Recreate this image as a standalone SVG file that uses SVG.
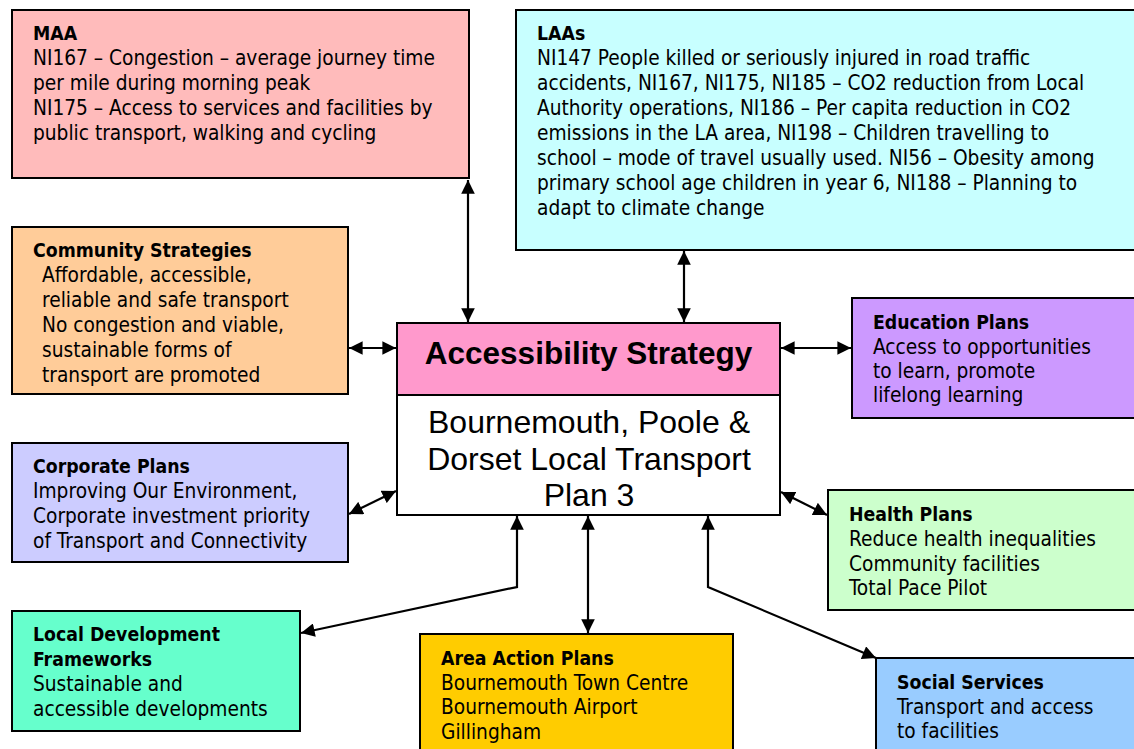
<svg xmlns="http://www.w3.org/2000/svg" width="1134" height="749" viewBox="0 0 1134 749">
  <style>
    .box { stroke: #000; stroke-width: 2; }
    .t { font-family: "DejaVu Sans Condensed", "DejaVu Sans", sans-serif; font-size: 20.7px; fill: #000; }
    .h { font-weight: bold; font-size: 19.3px; }
    .title { font-family: "Liberation Sans", Arial, sans-serif; font-size: 31.5px; font-weight: bold; fill: #000; }
    .sub { font-family: "Liberation Sans", Arial, sans-serif; font-size: 32px; fill: #000; }
    .link { fill: none; stroke: #000; stroke-width: 2.2; marker-start: url(#ah); marker-end: url(#ah); }
  </style>
  <defs>
    <marker id="ah" viewBox="0 0 10 10" refX="10" refY="5" markerWidth="6.5" markerHeight="6.2" orient="auto-start-reverse" markerUnits="strokeWidth">
      <path d="M0,0 L10,5 L0,10 z" fill="#000"/>
    </marker>
  </defs>

  <rect width="1134" height="749" fill="#fff"/>

  <!-- two-way connectors between the strategy and each plan -->
  <g id="connectors">
    <line class="link" x1="468" y1="180" x2="468" y2="322"/>
    <line class="link" x1="684" y1="251" x2="684" y2="322"/>
    <line class="link" x1="349" y1="348" x2="396" y2="348"/>
    <line class="link" x1="781" y1="348" x2="851" y2="348"/>
    <line class="link" x1="349" y1="514" x2="396" y2="491"/>
    <line class="link" x1="781" y1="492" x2="827" y2="515"/>
    <polyline class="link" points="517,516 517,587 301,633"/>
    <line class="link" x1="588" y1="516" x2="588" y2="633"/>
    <polyline class="link" points="708,516 708,587 876,658"/>
  </g>

  <g id="maa">
    <rect class="box" x="12" y="10" width="457" height="168" fill="#FFBBBB"/>
    <text class="t" x="33" y="40"><tspan class="h">MAA</tspan>
      <tspan x="33" dy="25">NI167 – Congestion – average journey time</tspan>
      <tspan x="33" dy="25">per mile during morning peak</tspan>
      <tspan x="33" dy="25">NI175 – Access to services and facilities by</tspan>
      <tspan x="33" dy="25">public transport, walking and cycling</tspan></text>
  </g>

  <g id="laas">
    <rect class="box" x="516" y="10" width="630" height="240" fill="#C8FFFF"/>
    <text class="t" x="537" y="40"><tspan class="h">LAAs</tspan>
      <tspan x="537" dy="25">NI147 People killed or seriously injured in road traffic</tspan>
      <tspan x="537" dy="25">accidents, NI167, NI175, NI185 – CO2 reduction from Local</tspan>
      <tspan x="537" dy="25">Authority operations, NI186 – Per capita reduction in CO2</tspan>
      <tspan x="537" dy="25">emissions in the LA area, NI198 – Children travelling to</tspan>
      <tspan x="537" dy="25">school – mode of travel usually used. NI56 – Obesity among</tspan>
      <tspan x="537" dy="25">primary school age children in year 6, NI188 – Planning to</tspan>
      <tspan x="537" dy="25">adapt to climate change</tspan></text>
  </g>

  <g id="community">
    <rect class="box" x="12" y="227" width="336" height="167" fill="#FFCC99"/>
    <text class="t" x="33" y="257"><tspan class="h">Community Strategies</tspan>
      <tspan x="42" dy="25">Affordable, accessible,</tspan>
      <tspan x="42" dy="25">reliable and safe transport</tspan>
      <tspan x="42" dy="25">No congestion and viable,</tspan>
      <tspan x="42" dy="25">sustainable forms of</tspan>
      <tspan x="42" dy="25">transport are promoted</tspan></text>
  </g>

  <g id="centre">
    <rect class="box" x="397" y="323" width="383" height="72" fill="#FF99CC"/>
    <rect class="box" x="397" y="395" width="383" height="120" fill="#fff"/>
    <text class="title" x="588.5" y="364" text-anchor="middle">Accessibility Strategy</text>
    <text class="sub" text-anchor="middle"><tspan x="589" y="433">Bournemouth, Poole &amp;</tspan><tspan x="589" y="470">Dorset Local Transport</tspan><tspan x="589" y="506">Plan 3</tspan></text>
  </g>

  <g id="education">
    <rect class="box" x="852" y="298" width="294" height="120" fill="#CC99FF"/>
    <text class="t" x="873" y="329"><tspan class="h">Education Plans</tspan>
      <tspan x="873" dy="25">Access to opportunities</tspan>
      <tspan x="873" dy="24">to learn, promote</tspan>
      <tspan x="873" dy="24">lifelong learning</tspan></text>
  </g>

  <g id="corporate">
    <rect class="box" x="12" y="443" width="336" height="119" fill="#CCCCFF"/>
    <text class="t" x="33" y="473"><tspan class="h">Corporate Plans</tspan>
      <tspan x="33" dy="25">Improving Our Environment,</tspan>
      <tspan x="33" dy="25">Corporate investment priority</tspan>
      <tspan x="33" dy="25">of Transport and Connectivity</tspan></text>
  </g>

  <g id="health">
    <rect class="box" x="828" y="490" width="318" height="120" fill="#CCFFCC"/>
    <text class="t" x="849" y="521"><tspan class="h">Health Plans</tspan>
      <tspan x="849" dy="25">Reduce health inequalities</tspan>
      <tspan x="849" dy="25">Community facilities</tspan>
      <tspan x="849" dy="24">Total Pace Pilot</tspan></text>
  </g>

  <g id="ldf">
    <rect class="box" x="12" y="611" width="288" height="120" fill="#66FFCC"/>
    <text class="t" x="33" y="641"><tspan class="h">Local Development</tspan>
      <tspan x="33" dy="25" class="h">Frameworks</tspan>
      <tspan x="33" dy="25">Sustainable and</tspan>
      <tspan x="33" dy="25">accessible developments</tspan></text>
  </g>

  <g id="area">
    <rect class="box" x="420" y="634" width="313" height="125" fill="#FFCC00"/>
    <text class="t" x="441" y="665"><tspan class="h">Area Action Plans</tspan>
      <tspan x="441" dy="25">Bournemouth Town Centre</tspan>
      <tspan x="441" dy="24">Bournemouth Airport</tspan>
      <tspan x="441" dy="25">Gillingham</tspan></text>
  </g>

  <g id="social">
    <rect class="box" x="876" y="658" width="270" height="100" fill="#99CCFF"/>
    <text class="t" x="897" y="689"><tspan class="h">Social Services</tspan>
      <tspan x="897" dy="25">Transport and access</tspan>
      <tspan x="897" dy="24">to facilities</tspan></text>
  </g>
</svg>
